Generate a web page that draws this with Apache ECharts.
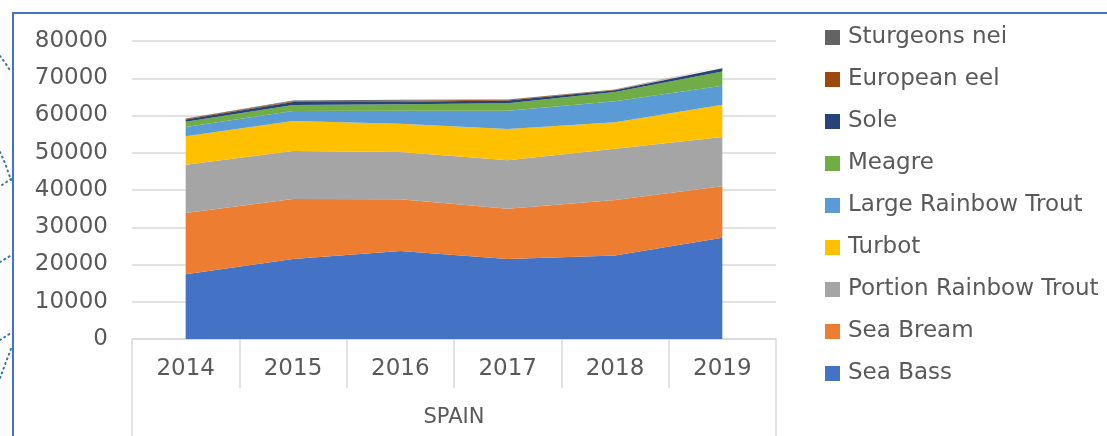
<!DOCTYPE html>
<html>
<head>
<meta charset="utf-8">
<title>Spain aquaculture</title>
<script src="https://cdn.jsdelivr.net/npm/echarts@6/dist/echarts.min.js"></script>
<style>
  html, body { margin: 0; padding: 0; background: #fff; }
  #main { width: 1107px; height: 436px; }
</style>
</head>
<body>
<div id="main"></div>
<script>
// data (tonnes)
var years = ['2014', '2015', '2016', '2017', '2018', '2019'];
var country = ['SPAIN'];
var seaBass = [17400, 21500, 23600, 21500, 22400, 27200];
var seaBream = [16400, 16100, 13900, 13500, 14900, 13800];
var portionTrout = [13000, 12900, 12700, 13000, 13800, 13200];
var turbot = [7600, 8000, 7600, 8400, 7100, 8700];
var largeTrout = [2500, 2700, 3500, 4900, 5600, 5100];
var meagre = [1400, 1600, 1700, 2000, 2500, 3800];
var sole = [600, 800, 700, 700, 450, 900];
var eel = [200, 250, 250, 200, 150, 300];
var sturgeons = [100, 150, 300, 100, 100, 200];

var names = ['Sea Bass', 'Sea Bream', 'Portion Rainbow Trout', 'Turbot', 'Large Rainbow Trout',
             'Meagre', 'Sole', 'European eel', 'Sturgeons nei'];
var values = [seaBass, seaBream, portionTrout, turbot, largeTrout, meagre, sole, eel, sturgeons];
var colors = ['#4472C4', '#ED7D31', '#A5A5A5', '#FFC000', '#5B9BD5', '#70AD47', '#264478', '#9E480E', '#636363'];

var font = 'DejaVu Sans';
var txt = '#595959';
var gridCol = '#d9d9d9';

var chart = echarts.init(document.getElementById('main'));

var series = names.map(function (n, i) {
  return {
    name: n,
    type: 'line',
    stack: 'total',
    data: values[i],
    symbol: 'none',
    lineStyle: { width: 0 },
    areaStyle: { color: colors[i], opacity: 1 },
    itemStyle: { color: colors[i] },
    emphasis: { disabled: true }
  };
});

// dotted connector bits at the left edge
function dots(pts) {
  return {
    type: 'polyline',
    shape: { points: pts },
    style: { stroke: '#2e75b6', lineWidth: 2, lineDash: [1, 4], lineCap: 'round', fill: null },
    silent: true
  };
}

var option = {
  animation: false,
  backgroundColor: '#fff',
  grid: { left: 132, right: 331, top: 41, bottom: 97 },
  legend: {
    orient: 'vertical',
    left: 820,
    top: 21,
    itemWidth: 15,
    itemHeight: 15,
    itemGap: 19,
    icon: 'rect',
    selectedMode: false,
    data: names.slice().reverse(),
    textStyle: { fontFamily: font, fontSize: 23, color: txt, lineHeight: 23, padding: [0, 0, 0, 3] }
  },
  xAxis: [
    {
      type: 'category',
      data: years,
      axisLine: { lineStyle: { color: gridCol, width: 1.5 } },
      axisTick: { show: true, interval: 0, length: 49, lineStyle: { color: gridCol, width: 1.5 } },
      axisLabel: { margin: 19, fontFamily: font, fontSize: 23, color: txt },
      splitLine: { show: false }
    },
    {
      type: 'category',
      data: country,
      position: 'bottom',
      axisLine: { show: false },
      axisTick: { show: true, length: 100, lineStyle: { color: gridCol, width: 1.5 } },
      axisLabel: { margin: 68, fontFamily: font, fontSize: 21, color: txt },
      splitLine: { show: false }
    }
  ],
  yAxis: {
    type: 'value',
    min: 0,
    max: 80000,
    interval: 10000,
    axisLine: { show: false },
    axisTick: { show: false },
    axisLabel: {
      margin: 24, fontFamily: font, fontSize: 23, color: txt,
      formatter: function (v) { return String(v); }
    },
    splitLine: { lineStyle: { color: gridCol, width: 1.5 } }
  },
  series: series,
  graphic: [
    {
      type: 'polyline',
      shape: { points: [[13, 436], [13, 13], [1107, 13]] },
      style: { stroke: '#4472C4', lineWidth: 2, fill: null },
      silent: true
    },
    dots([[0, 56], [6, 64], [11, 72]]),
    dots([[0, 152], [5, 163], [11, 180]]),
    dots([[2, 185], [11, 179]]),
    dots([[0, 262], [10, 256]]),
    dots([[0, 340], [11, 333]]),
    dots([[11, 349], [6, 362], [0, 378]])
  ]
};

chart.setOption(option);
</script>
</body>
</html>
